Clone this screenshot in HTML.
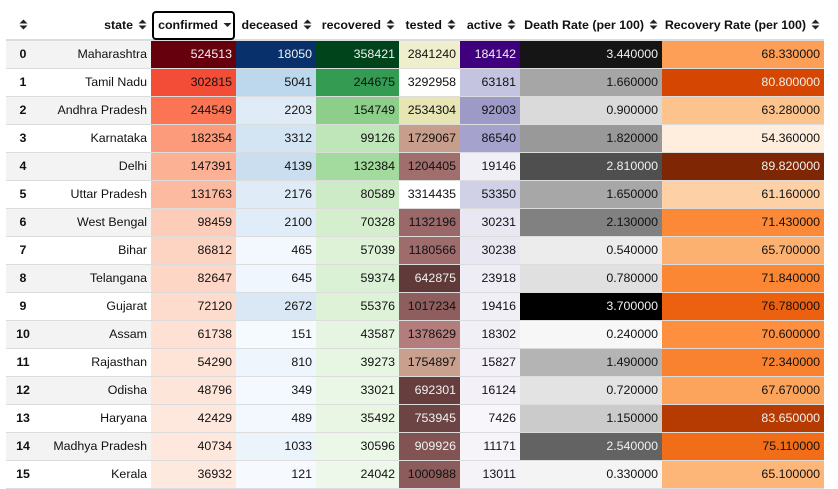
<!DOCTYPE html>
<html><head><meta charset="utf-8">
<style>
html,body{margin:0;padding:0;background:#fff;width:838px;height:474px;overflow:hidden}
body{font-family:"Liberation Sans",sans-serif;font-size:12.4px;color:#111}
table{position:absolute;left:6px;top:0;border-collapse:collapse;table-layout:fixed;width:818px}
th{font-weight:bold;height:40px;padding:0 4px 7px 0;text-align:right;vertical-align:bottom;border-bottom:2px solid #dcdcdc;white-space:nowrap;box-sizing:border-box;position:relative;overflow:visible}
td{height:28px;padding:0 4px 0 0;text-align:right;border-bottom:1px solid #dcdcdc;white-space:nowrap;box-sizing:border-box;overflow:visible}
td.idx{text-align:center;font-weight:bold;padding:0}
tr.even td.idx,tr.even td.st{background:#f3f3f3}
.arr{display:inline-block;width:9px;height:11px;vertical-align:-1px;margin-left:5px}
th.sel::after{content:"";position:absolute;left:1px;right:1px;top:11px;bottom:-1px;border:2px solid #000;border-radius:4px}
</style></head><body>
<table>
<colgroup><col style="width:34px"><col style="width:111px"><col style="width:85px"><col style="width:80px"><col style="width:83px"><col style="width:61px"><col style="width:60px"><col style="width:142px"><col style="width:162px"></colgroup>
<thead><tr id="hdr"></tr></thead>
<tbody id="body"></tbody>
</table>
<script>
const headers=["","state","confirmed","deceased","recovered","tested","active","Death Rate (per 100)","Recovery Rate (per 100)"];
const states=["Maharashtra","Tamil Nadu","Andhra Pradesh","Karnataka","Delhi","Uttar Pradesh","West Bengal","Bihar","Telangana","Gujarat","Assam","Rajasthan","Odisha","Haryana","Madhya Pradesh","Kerala"];
const confirmed=[524513,302815,244549,182354,147391,131763,98459,86812,82647,72120,61738,54290,48796,42429,40734,36932];
const deceased=[18050,5041,2203,3312,4139,2176,2100,465,645,2672,151,810,349,489,1033,121];
const recovered=[358421,244675,154749,99126,132384,80589,70328,57039,59374,55376,43587,39273,33021,35492,30596,24042];
const tested=[2841240,3292958,2534304,1729067,1204405,3314435,1132196,1180566,642875,1017234,1378629,1754897,692301,753945,909926,1000988];
const active=[184142,63181,92003,86540,19146,53350,30231,30238,23918,19416,18302,15827,16124,7426,11171,13011];
const deathRate=[3.44,1.66,0.90,1.82,2.81,1.65,2.13,0.54,0.78,3.70,0.24,1.49,0.72,1.15,2.54,0.33];
const recoveryRate=[68.33,80.80,63.28,54.36,89.82,61.16,71.43,65.70,71.84,76.78,70.60,72.34,67.67,83.65,75.11,65.10];

const maps={
reds:["#fff5f0","#fee0d2","#fcbba1","#fc9272","#fb6a4a","#ef3b2c","#cb181d","#a50f15","#67000d"],
blues:["#f7fbff","#deebf7","#c6dbef","#9ecae1","#6baed6","#4292c6","#2171b5","#08519c","#08306b"],
greens:["#f7fcf5","#e5f5e0","#c7e9c0","#a1d99b","#74c476","#41ab5d","#238b45","#006d2c","#00441b"],
purples:["#fcfbfd","#efedf5","#dadaeb","#bcbddc","#9e9ac8","#807dba","#6a51a3","#54278f","#3f007d"],
greys:["#ffffff","#f0f0f0","#d9d9d9","#bdbdbd","#969696","#737373","#525252","#252525","#000000"],
oranges:["#fff5eb","#fee6ce","#fdd0a2","#fdae6b","#fd8d3c","#f16913","#d94801","#a63603","#7f2704"]};
const pinkStops=[[0,"#1e0000"],[0.19,"#5e3838"],[0.31,"#8f5f5f"],[0.42,"#b57e7e"],[0.53,"#c9a08d"],[0.75,"#e6e4b0"],[0.86,"#efefcf"],[1,"#ffffff"]];
function hex(h){return [1,3,5].map(i=>parseInt(h.substr(i,2),16));}
function mix(a,b,f){const A=hex(a),B=hex(b);return "rgb("+A.map((v,i)=>Math.round(v+(B[i]-v)*f)).join(",")+")";}
function seq(name,t){const s=maps[name];t=Math.max(0,Math.min(1,t));const p=t*(s.length-1);const i=Math.min(s.length-2,Math.floor(p));return mix(s[i],s[i+1],p-i);}
function pink(t){t=Math.max(0,Math.min(1,t));for(let i=0;i<pinkStops.length-1;i++){const[a,ca]=pinkStops[i],[b,cb]=pinkStops[i+1];if(t<=b)return mix(ca,cb,(t-a)/(b-a));}return "#fff";}

const cols=[
{vals:confirmed,lo:0,cmap:t=>seq("reds",t),white:t=>t>0.7,fmt:v=>v},
{vals:deceased,lo:0,cmap:t=>seq("blues",t),white:t=>t>0.5,fmt:v=>v},
{vals:recovered,lo:0,cmap:t=>seq("greens",t),white:t=>t>0.8,fmt:v=>v},
{vals:tested,lo:0,cmap:pink,white:t=>t<0.29,fmt:v=>v},
{vals:active,lo:0,cmap:t=>seq("purples",t),white:t=>t>0.6,fmt:v=>v},
{vals:deathRate,lo:0,cmap:t=>seq("greys",t),white:t=>t>0.62,fmt:v=>v.toFixed(6)},
{vals:recoveryRate,lo:52,cmap:t=>seq("oranges",t),white:t=>t>0.7,fmt:v=>v.toFixed(6)}];

const arrowBoth='<svg class="arr" viewBox="0 0 9 11"><path d="M0.5 4.5L4.5 0.5L8.5 4.5Z M0.5 6.5L4.5 10.5L8.5 6.5Z" fill="#222"/></svg>';
const arrowDown='<svg class="arr" viewBox="0 0 9 11"><path d="M0.5 4L4.5 8L8.5 4Z" fill="#222"/></svg>';
const hdr=document.getElementById("hdr");
headers.forEach((h,i)=>{
  const th=document.createElement("th");
  
  
  if(i===0){th.style.textAlign="center";th.style.paddingRight="0";th.innerHTML=arrowBoth.replace('class="arr"','class="arr" style="margin-left:0"');}
  else if(i===2){th.className="sel";th.innerHTML=h+arrowDown;}
  else th.innerHTML=h+arrowBoth;
  hdr.appendChild(th);
});
const body=document.getElementById("body");
states.forEach((s,r)=>{
  const tr=document.createElement("tr");
  
  
  if(r%2===0)tr.className="even";
  const ti=document.createElement("td");ti.className="idx";ti.textContent=r;
  
  
  tr.appendChild(ti);
  const ts=document.createElement("td");ts.className="st";ts.textContent=s;
  
  
  tr.appendChild(ts);
  cols.forEach((c,ci)=>{
    const mx=Math.max(...c.vals);const v=c.vals[r];const t=(v-c.lo)/(mx-c.lo);
    const td=document.createElement("td");
    
    
    td.style.background=c.cmap(t);
    td.style.color=c.white(t)?"#f1f1f1":"#111";
    td.textContent=c.fmt(v);
    tr.appendChild(td);
  });
  body.appendChild(tr);
});
</script>
</body></html>
